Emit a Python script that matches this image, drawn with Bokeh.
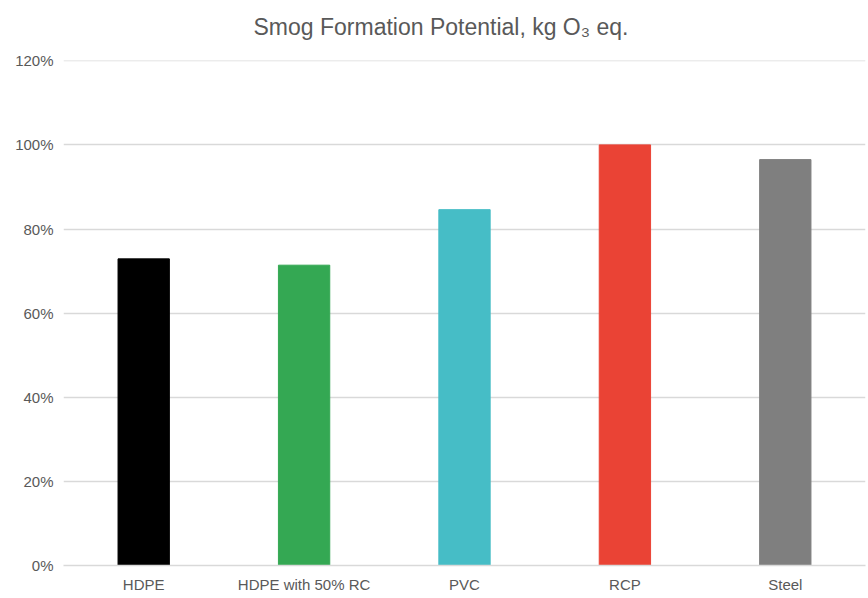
from bokeh.plotting import figure
from bokeh.models import (FixedTicker, NumeralTickFormatter, ColumnDataSource,
                          Title, BoxAnnotation)
from bokeh.embed import file_html
from bokeh.resources import INLINE

categories = ["HDPE", "HDPE with 50% RC", "PVC", "RCP", "Steel"]
values = [0.729, 0.714, 0.846, 1.0, 0.965]
colors = ["#000000", "#34a853", "#46bdc6", "#ea4335", "#7f7f7f"]
y_ticks = [0, 0.2, 0.4, 0.6, 0.8, 1.0, 1.2]
title_text = "Smog Formation Potential, kg O\u2083 eq."

FONT = "Liberation Sans"
GREY_TEXT = "#595959"
GRID = "#d9d9d9"

src = ColumnDataSource(data=dict(cat=categories, val=values, color=colors))

W, H = 857, 590
p = figure(x_range=categories, y_range=(0, 1.2006), width=W, height=H,
           output_backend="svg", toolbar_location=None,
           min_border_left=52, min_border_right=3, min_border_top=52,
           min_border_bottom=33)
p.styles = {"margin-left": "11px", "margin-top": "8px"}

p.vbar(x="cat", top="val", width=0.32, color="color", source=src)

p.title.text = title_text
p.title.text_font = FONT
p.title.text_font_size = "23px"
p.title.text_font_style = "normal"
p.title.text_color = GREY_TEXT
p.title.align = "left"
p.title.offset = 190
p.title.standoff = 2
p.title.vertical_align = "top"

# empty spacer between the title and the plot frame
spacer = Title(text=" ", text_font_size="14px", standoff=0, text_color="white")
p.add_layout(spacer, "above")

# black frame lines on the left and top edges of the chart area
try:
    left_edge = BoxAnnotation(left=0, right=2, top=0, bottom=H,
                              left_units="canvas", right_units="canvas",
                              top_units="canvas", bottom_units="canvas",
                              fill_color="black", fill_alpha=1,
                              line_color=None, level="overlay")
    top_edge = BoxAnnotation(left=0, right=W, top=0, bottom=2,
                             left_units="canvas", right_units="canvas",
                             top_units="canvas", bottom_units="canvas",
                             fill_color="black", fill_alpha=1,
                             line_color=None, level="overlay")
    p.add_layout(left_edge)
    p.add_layout(top_edge)
except Exception:
    p.styles = {"border-left": "2px solid black", "border-top": "2px solid black",
                "margin-left": "11px", "margin-top": "8px"}
    p.width = 853
    p.height = 588
    p.min_border_left = 50
    p.min_border_top = 50
    p.min_border_right = 1

p.outline_line_color = None
p.background_fill_color = "white"
p.border_fill_color = "white"

p.yaxis.ticker = FixedTicker(ticks=y_ticks)
p.yaxis.formatter = NumeralTickFormatter(format="0%")
p.yaxis.axis_line_color = None
p.yaxis.major_tick_line_color = None
p.yaxis.minor_tick_line_color = None
p.yaxis.major_tick_out = 0
p.yaxis.major_tick_in = 0
p.yaxis.major_label_standoff = 10
p.yaxis.major_label_text_font = FONT
p.yaxis.major_label_text_font_size = "15px"
p.yaxis.major_label_text_color = GREY_TEXT

p.xaxis.axis_line_color = GRID
p.xaxis.axis_line_width = 1.5
p.xaxis.major_tick_line_color = None
p.xaxis.minor_tick_line_color = None
p.xaxis.major_tick_out = 0
p.xaxis.major_tick_in = 0
p.xaxis.major_label_standoff = 10
p.xaxis.major_label_text_font = FONT
p.xaxis.major_label_text_font_size = "15px"
p.xaxis.major_label_text_color = GREY_TEXT

p.xgrid.grid_line_color = None
p.ygrid.grid_line_color = GRID
p.ygrid.grid_line_width = 1.5
p.ygrid.ticker = FixedTicker(ticks=y_ticks)

p.x_range.range_padding = 0

open("out.html", "w").write(file_html(p, INLINE))
